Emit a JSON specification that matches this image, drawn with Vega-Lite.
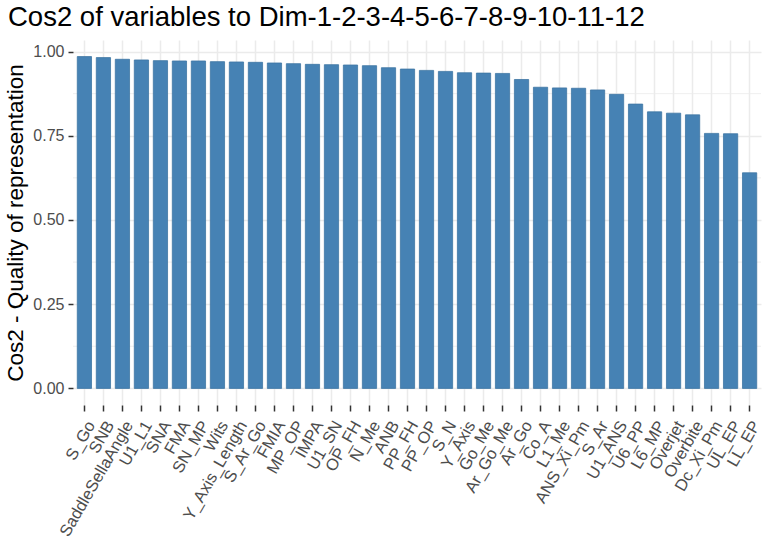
{
  "$schema": "https://vega.github.io/schema/vega-lite/v6.json",
  "autosize": "none",
  "width": 688,
  "height": 365,
  "padding": {"left": 73, "top": 40, "right": 5, "bottom": 139},
  "background": "white",
  "title": {
    "text": "Cos2 of variables to Dim-1-2-3-4-5-6-7-8-9-10-11-12",
    "anchor": "start",
    "frame": "group",
    "dx": -65,
    "dy": 27,
    "fontSize": 27.5,
    "font": "Liberation Sans",
    "fontWeight": "normal",
    "color": "black",
    "baseline": "alphabetic",
    "offset": 14
  },
  "config": {
    "view": {"stroke": null},
    "axis": {"labelFont": "Liberation Sans", "titleFont": "Liberation Sans", "domain": false}
  },
  "datasets": {
    "minorGrid": [{"v": 0.125}, {"v": 0.375}, {"v": 0.625}, {"v": 0.875}],
    "cos2": [
      {"variable": "S_Go", "cos2": 0.985},
      {"variable": "SNB", "cos2": 0.982},
      {"variable": "SaddleSellaAngle", "cos2": 0.977},
      {"variable": "U1_L1", "cos2": 0.975},
      {"variable": "SNA", "cos2": 0.973},
      {"variable": "FMA", "cos2": 0.972},
      {"variable": "SN_MP", "cos2": 0.972},
      {"variable": "Wits", "cos2": 0.970},
      {"variable": "Y_Axis_Length", "cos2": 0.969},
      {"variable": "S_Ar_Go", "cos2": 0.968},
      {"variable": "FMIA", "cos2": 0.966},
      {"variable": "MP_OP", "cos2": 0.964},
      {"variable": "IMPA", "cos2": 0.962},
      {"variable": "U1_SN", "cos2": 0.961},
      {"variable": "OP_FH", "cos2": 0.960},
      {"variable": "N_Me", "cos2": 0.958},
      {"variable": "ANB", "cos2": 0.952},
      {"variable": "PP_FH", "cos2": 0.948},
      {"variable": "PP_OP", "cos2": 0.944},
      {"variable": "S_N", "cos2": 0.941},
      {"variable": "Y_Axis", "cos2": 0.937},
      {"variable": "Go_Me", "cos2": 0.936},
      {"variable": "Ar_Go_Me", "cos2": 0.935},
      {"variable": "Ar_Go", "cos2": 0.917},
      {"variable": "Co_A", "cos2": 0.894},
      {"variable": "L1_Me", "cos2": 0.892},
      {"variable": "ANS_Xi_Pm", "cos2": 0.891},
      {"variable": "S_Ar", "cos2": 0.886},
      {"variable": "U1_ANS", "cos2": 0.873},
      {"variable": "U6_PP", "cos2": 0.844},
      {"variable": "L6_MP", "cos2": 0.821},
      {"variable": "Overjet", "cos2": 0.817},
      {"variable": "Overbite", "cos2": 0.812},
      {"variable": "Dc_Xi_Pm", "cos2": 0.757},
      {"variable": "UL_EP", "cos2": 0.756},
      {"variable": "LL_EP", "cos2": 0.640}
    ]
  },
  "layer": [
    {
      "data": {"name": "minorGrid"},
      "mark": {"type": "rule", "color": "#EBEBEB", "strokeWidth": 0.8},
      "encoding": {
        "y": {"field": "v", "type": "quantitative",
          "scale": {"domain": [-0.04925, 1.03425], "nice": false, "zero": false},
          "axis": {"values": [0, 0.25, 0.5, 0.75, 1], "format": ".2f", "grid": true, "gridColor": "#EBEBEB", "gridWidth": 1.5,
            "ticks": true, "tickColor": "#333333", "tickSize": 5, "tickWidth": 1.5,
            "labelFontSize": 16, "labelColor": "#4D4D4D", "labelPadding": 4,
            "title": "Cos2 - Quality of representation", "titleFontSize": 22.5, "titleFontWeight": "normal",
            "titleColor": "black", "titlePadding": 5}}
      }
    },
    {
      "data": {"name": "cos2"},
      "mark": {"type": "bar", "fill": "#4682B4", "stroke": "#3F76A3", "strokeWidth": 0.8},
      "encoding": {
        "x": {"field": "variable", "type": "nominal", "sort": null,
          "scale": {"paddingInner": 0.25, "paddingOuter": 0.225},
          "axis": {"title": null, "bandPosition": 0.5, "grid": true, "gridColor": "#EBEBEB", "gridWidth": 1.5,
            "ticks": true, "tickColor": "#333333", "tickSize": 6, "tickWidth": 1.5, "tickBand": "center",
            "labelAngle": -60, "labelAlign": "right", "labelBaseline": "top", "labelFontSize": 16.5,
            "labelColor": "#4D4D4D", "labelPadding": 7, "labelOverlap": false, "labelBound": false}},
        "y": {"field": "cos2", "type": "quantitative",
          "scale": {"domain": [-0.04925, 1.03425], "nice": false, "zero": false},
          "axis": {"values": [0, 0.25, 0.5, 0.75, 1], "format": ".2f", "grid": true, "gridColor": "#EBEBEB", "gridWidth": 1.5,
            "ticks": true, "tickColor": "#333333", "tickSize": 5, "tickWidth": 1.5,
            "labelFontSize": 16, "labelColor": "#4D4D4D", "labelPadding": 4,
            "title": "Cos2 - Quality of representation", "titleFontSize": 22.5, "titleFontWeight": "normal",
            "titleColor": "black", "titlePadding": 5}}
      }
    }
  ]
}
